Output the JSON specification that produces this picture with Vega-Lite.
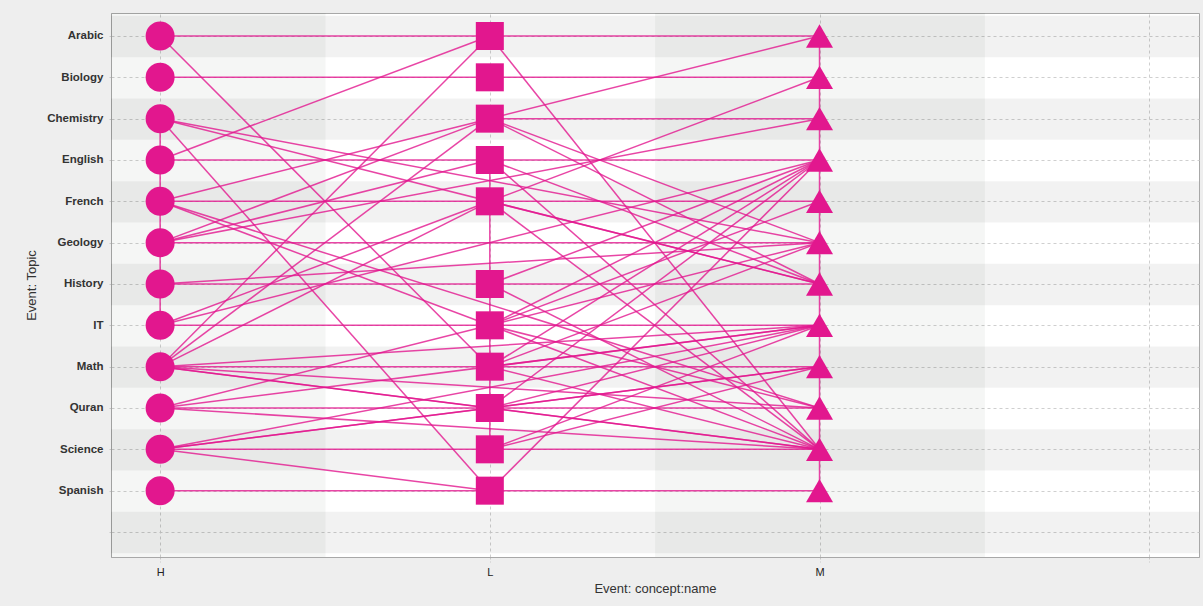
{
  "$schema": "https://vega.github.io/schema/vega-lite/v6.json",
  "width": 1088,
  "height": 544,
  "autosize": {"type": "none"},
  "padding": {"left": 111, "top": 13, "right": 4, "bottom": 49},
  "background": "#eeeeee",
  "config": {
    "view": {"stroke": "#a8a8a8", "fill": "#ffffff"},
    "font": "Liberation Sans"
  },
  "datasets": {
    "topics": [
      {"topic": "Arabic", "i": 0}, {"topic": "Biology", "i": 1}, {"topic": "Chemistry", "i": 2},
      {"topic": "English", "i": 3}, {"topic": "French", "i": 4}, {"topic": "Geology", "i": 5},
      {"topic": "History", "i": 6}, {"topic": "IT", "i": 7}, {"topic": "Math", "i": 8},
      {"topic": "Quran", "i": 9}, {"topic": "Science", "i": 10}, {"topic": "Spanish", "i": 11},
      {"topic": "", "i": 12}
    ],
    "acts": [
      {"activity": "H", "i": 0}, {"activity": "L", "i": 1}, {"activity": "M", "i": 2}, {"activity": "", "i": 3}
    ],
    "events": [
      {"activity": "H", "topic": "Arabic"}, {"activity": "H", "topic": "Biology"}, {"activity": "H", "topic": "Chemistry"},
      {"activity": "H", "topic": "English"}, {"activity": "H", "topic": "French"}, {"activity": "H", "topic": "Geology"},
      {"activity": "H", "topic": "History"}, {"activity": "H", "topic": "IT"}, {"activity": "H", "topic": "Math"},
      {"activity": "H", "topic": "Quran"}, {"activity": "H", "topic": "Science"}, {"activity": "H", "topic": "Spanish"},
      {"activity": "L", "topic": "Arabic"}, {"activity": "L", "topic": "Biology"}, {"activity": "L", "topic": "Chemistry"},
      {"activity": "L", "topic": "English"}, {"activity": "L", "topic": "French"},
      {"activity": "L", "topic": "History"}, {"activity": "L", "topic": "IT"}, {"activity": "L", "topic": "Math"},
      {"activity": "L", "topic": "Quran"}, {"activity": "L", "topic": "Science"}, {"activity": "L", "topic": "Spanish"},
      {"activity": "M", "topic": "Arabic"}, {"activity": "M", "topic": "Biology"}, {"activity": "M", "topic": "Chemistry"},
      {"activity": "M", "topic": "English"}, {"activity": "M", "topic": "French"}, {"activity": "M", "topic": "Geology"},
      {"activity": "M", "topic": "History"}, {"activity": "M", "topic": "IT"}, {"activity": "M", "topic": "Math"},
      {"activity": "M", "topic": "Quran"}, {"activity": "M", "topic": "Science"}, {"activity": "M", "topic": "Spanish"}
    ],
    "links": [
      {"a1": "H", "t1": "Arabic", "a2": "L", "t2": "Arabic"},
      {"a1": "H", "t1": "Biology", "a2": "L", "t2": "Biology"},
      {"a1": "H", "t1": "English", "a2": "L", "t2": "English"},
      {"a1": "H", "t1": "French", "a2": "L", "t2": "French"},
      {"a1": "H", "t1": "History", "a2": "L", "t2": "History"},
      {"a1": "H", "t1": "IT", "a2": "L", "t2": "IT"},
      {"a1": "H", "t1": "Math", "a2": "L", "t2": "Math"},
      {"a1": "H", "t1": "Quran", "a2": "L", "t2": "Quran"},
      {"a1": "H", "t1": "Science", "a2": "L", "t2": "Science"},
      {"a1": "H", "t1": "Spanish", "a2": "L", "t2": "Spanish"},
      {"a1": "H", "t1": "Arabic", "a2": "L", "t2": "Math"},
      {"a1": "H", "t1": "Chemistry", "a2": "L", "t2": "Spanish"},
      {"a1": "H", "t1": "English", "a2": "L", "t2": "Arabic"},
      {"a1": "H", "t1": "French", "a2": "L", "t2": "Chemistry"},
      {"a1": "H", "t1": "French", "a2": "L", "t2": "IT"},
      {"a1": "H", "t1": "Geology", "a2": "L", "t2": "Chemistry"},
      {"a1": "H", "t1": "Geology", "a2": "L", "t2": "English"},
      {"a1": "H", "t1": "Math", "a2": "L", "t2": "Arabic"},
      {"a1": "H", "t1": "Math", "a2": "L", "t2": "Chemistry"},
      {"a1": "H", "t1": "Math", "a2": "L", "t2": "French"},
      {"a1": "H", "t1": "Math", "a2": "L", "t2": "Quran"},
      {"a1": "H", "t1": "IT", "a2": "L", "t2": "French"},
      {"a1": "H", "t1": "Quran", "a2": "L", "t2": "IT"},
      {"a1": "H", "t1": "Science", "a2": "L", "t2": "Quran"},
      {"a1": "H", "t1": "Science", "a2": "L", "t2": "Spanish"},
      {"a1": "H", "t1": "Geology", "a2": "M", "t2": "Geology"},
      {"a1": "H", "t1": "Chemistry", "a2": "M", "t2": "Geology"},
      {"a1": "H", "t1": "Chemistry", "a2": "M", "t2": "History"},
      {"a1": "H", "t1": "Geology", "a2": "M", "t2": "Chemistry"},
      {"a1": "H", "t1": "History", "a2": "M", "t2": "Geology"},
      {"a1": "H", "t1": "IT", "a2": "M", "t2": "English"},
      {"a1": "H", "t1": "French", "a2": "M", "t2": "Quran"},
      {"a1": "H", "t1": "Math", "a2": "M", "t2": "IT"},
      {"a1": "H", "t1": "Math", "a2": "M", "t2": "Quran"},
      {"a1": "H", "t1": "Math", "a2": "M", "t2": "Science"},
      {"a1": "H", "t1": "Quran", "a2": "M", "t2": "Science"},
      {"a1": "H", "t1": "Quran", "a2": "M", "t2": "IT"},
      {"a1": "H", "t1": "Science", "a2": "M", "t2": "IT"},
      {"a1": "H", "t1": "Science", "a2": "M", "t2": "Math"},
      {"a1": "L", "t1": "Arabic", "a2": "M", "t2": "Arabic"},
      {"a1": "L", "t1": "Biology", "a2": "M", "t2": "Biology"},
      {"a1": "L", "t1": "Chemistry", "a2": "M", "t2": "Chemistry"},
      {"a1": "L", "t1": "English", "a2": "M", "t2": "English"},
      {"a1": "L", "t1": "French", "a2": "M", "t2": "French"},
      {"a1": "L", "t1": "History", "a2": "M", "t2": "History"},
      {"a1": "L", "t1": "IT", "a2": "M", "t2": "IT"},
      {"a1": "L", "t1": "Math", "a2": "M", "t2": "Math"},
      {"a1": "L", "t1": "Quran", "a2": "M", "t2": "Quran"},
      {"a1": "L", "t1": "Science", "a2": "M", "t2": "Science"},
      {"a1": "L", "t1": "Spanish", "a2": "M", "t2": "Spanish"},
      {"a1": "L", "t1": "Arabic", "a2": "M", "t2": "Science"},
      {"a1": "L", "t1": "Chemistry", "a2": "M", "t2": "Arabic"},
      {"a1": "L", "t1": "French", "a2": "M", "t2": "Biology"},
      {"a1": "L", "t1": "Chemistry", "a2": "M", "t2": "Geology"},
      {"a1": "L", "t1": "Chemistry", "a2": "M", "t2": "History"},
      {"a1": "L", "t1": "English", "a2": "M", "t2": "History"},
      {"a1": "L", "t1": "English", "a2": "M", "t2": "Science"},
      {"a1": "L", "t1": "French", "a2": "M", "t2": "History"},
      {"a1": "L", "t1": "French", "a2": "M", "t2": "Science"},
      {"a1": "L", "t1": "History", "a2": "M", "t2": "English"},
      {"a1": "L", "t1": "History", "a2": "M", "t2": "Science"},
      {"a1": "L", "t1": "IT", "a2": "M", "t2": "English"},
      {"a1": "L", "t1": "IT", "a2": "M", "t2": "Geology"},
      {"a1": "L", "t1": "IT", "a2": "M", "t2": "French"},
      {"a1": "L", "t1": "IT", "a2": "M", "t2": "Quran"},
      {"a1": "L", "t1": "IT", "a2": "M", "t2": "Science"},
      {"a1": "L", "t1": "Math", "a2": "M", "t2": "English"},
      {"a1": "L", "t1": "Math", "a2": "M", "t2": "Geology"},
      {"a1": "L", "t1": "Math", "a2": "M", "t2": "IT"},
      {"a1": "L", "t1": "Math", "a2": "M", "t2": "Science"},
      {"a1": "L", "t1": "Quran", "a2": "M", "t2": "English"},
      {"a1": "L", "t1": "Quran", "a2": "M", "t2": "IT"},
      {"a1": "L", "t1": "Quran", "a2": "M", "t2": "Math"},
      {"a1": "L", "t1": "Quran", "a2": "M", "t2": "Science"},
      {"a1": "L", "t1": "Science", "a2": "M", "t2": "IT"},
      {"a1": "L", "t1": "Science", "a2": "M", "t2": "Math"},
      {"a1": "L", "t1": "Spanish", "a2": "M", "t2": "English"},
      {"a1": "H", "t1": "Chemistry", "a2": "H", "t2": "IT"},
      {"a1": "L", "t1": "English", "a2": "L", "t2": "Science"},
      {"a1": "M", "t1": "Arabic", "a2": "M", "t2": "Spanish"}
    ]
  },
  "layer": [
    {
      "data": {"name": "acts"},
      "transform": [{"filter": "datum.i % 2 == 0"}],
      "mark": {"type": "rect", "fill": "#1a301a", "opacity": 0.045, "clip": true},
      "encoding": {
        "x": {"field": "i", "type": "quantitative", "bin": {"step": 1, "extent": [-0.5, 3.5], "nice": false}, "title": "Event: concept:name",
              "scale": {"domain": [-0.149, 3.151], "nice": false, "zero": false}}
      }
    },
    {
      "data": {"name": "topics"},
      "transform": [{"filter": "datum.i % 2 == 0"}],
      "mark": {"type": "rect", "fill": "#000000", "opacity": 0.05, "clip": true},
      "encoding": {
        "y": {"field": "i", "type": "quantitative", "bin": {"step": 1, "extent": [-0.5, 12.5], "nice": false}, "title": "Event: Topic",
              "scale": {"domain": [-0.556, 12.605], "nice": false, "zero": false, "reverse": true}}
      }
    },
    {
      "data": {"name": "links"},
      "transform": [
        {"lookup": "a1", "from": {"data": {"name": "acts"}, "key": "activity", "fields": ["i"]}, "as": ["xa"]},
        {"lookup": "a2", "from": {"data": {"name": "acts"}, "key": "activity", "fields": ["i"]}, "as": ["xb"]},
        {"lookup": "t1", "from": {"data": {"name": "topics"}, "key": "topic", "fields": ["i"]}, "as": ["ya"]},
        {"lookup": "t2", "from": {"data": {"name": "topics"}, "key": "topic", "fields": ["i"]}, "as": ["yb"]}
      ],
      "mark": {"type": "rule", "stroke": "#e2178e", "strokeWidth": 1.5, "opacity": 0.8},
      "encoding": {
        "x": {"field": "xa", "type": "quantitative", "title": "Event: concept:name"},
        "x2": {"field": "xb"},
        "y": {"field": "ya", "type": "quantitative", "title": "Event: Topic"},
        "y2": {"field": "yb"}
      }
    },
    {
      "data": {"name": "events"},
      "transform": [
        {"lookup": "activity", "from": {"data": {"name": "acts"}, "key": "activity", "fields": ["i"]}, "as": ["xa"]},
        {"lookup": "topic", "from": {"data": {"name": "topics"}, "key": "topic", "fields": ["i"]}, "as": ["ya"]}
      ],
      "mark": {"type": "point", "filled": true, "opacity": 1, "fill": "#e2178e", "strokeWidth": 0},
      "encoding": {
        "x": {"field": "xa", "type": "quantitative", "title": "Event: concept:name",
              "axis": {"values": [0, 1, 2, 3], "labelExpr": "datum.value == 0 ? 'H' : datum.value == 1 ? 'L' : datum.value == 2 ? 'M' : ''",
                       "grid": true, "gridDash": [3, 3], "gridColor": "#cfcfcf", "zindex": 0,
                       "domainColor": "#a8a8a8", "tickColor": "#c8c8c8", "tickSize": 5, "tickDash": [2, 2],
                       "labelFontSize": 11, "labelColor": "#222222", "labelPadding": 4, "labelAngle": 0,
                       "titleFontSize": 13, "titleFontWeight": "normal", "titleColor": "#333333", "titlePadding": 5}},
        "y": {"field": "ya", "type": "quantitative", "title": "Event: Topic",
              "axis": {"values": [0, 1, 2, 3, 4, 5, 6, 7, 8, 9, 10, 11, 12],
                       "labelExpr": "datum.value == 0 ? 'Arabic' : datum.value == 1 ? 'Biology' : datum.value == 2 ? 'Chemistry' : datum.value == 3 ? 'English' : datum.value == 4 ? 'French' : datum.value == 5 ? 'Geology' : datum.value == 6 ? 'History' : datum.value == 7 ? 'IT' : datum.value == 8 ? 'Math' : datum.value == 9 ? 'Quran' : datum.value == 10 ? 'Science' : datum.value == 11 ? 'Spanish' : ''",
                       "grid": true, "gridDash": [3, 3], "gridColor": "#cfcfcf", "zindex": 0,
                       "domainColor": "#a8a8a8", "tickColor": "#c8c8c8", "tickSize": 4, "tickDash": [2, 2],
                       "labelFontSize": 11.5, "labelFontWeight": "bold", "labelColor": "#333333", "labelPadding": 4,
                       "titleFontSize": 13, "titleFontWeight": "normal", "titleColor": "#333333", "titlePadding": 8}},
        "shape": {"field": "activity", "type": "nominal", "scale": {"domain": ["H", "L", "M"], "range": ["circle", "square", "triangle-up"]}, "legend": null},
        "size": {"field": "activity", "type": "ordinal", "scale": {"domain": ["H", "L", "M"], "range": [841, 729, 1700]}, "legend": null}
      }
    }
  ]
}
